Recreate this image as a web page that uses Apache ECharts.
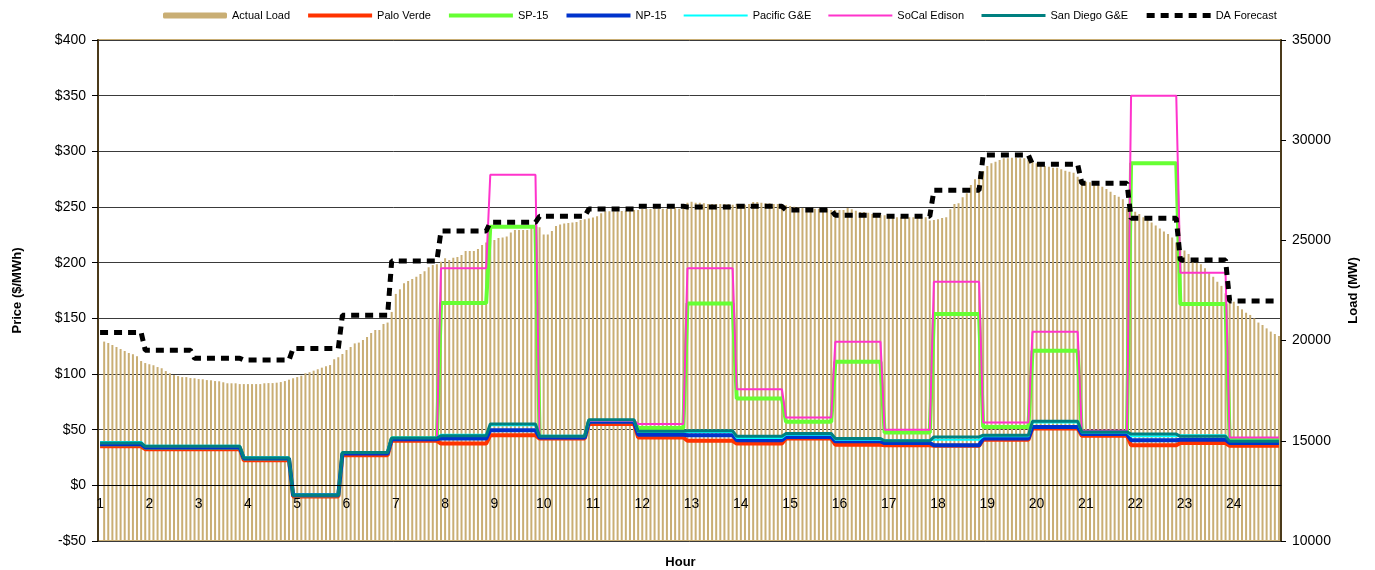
<!DOCTYPE html>
<html>
<head>
<meta charset="utf-8">
<script src="https://cdn.jsdelivr.net/npm/echarts@6/dist/echarts.min.js"></script>
<style>
  html, body { margin: 0; padding: 0; background: #fff; }
  #chart { width: 1375px; height: 570px; }
</style>
</head>
<body>
<div id="chart"></div>
<script>
// hour labels on the x axis (one every 12 five-minute slots)
var hourLabels = ['1','2','3','4','5','6','7','8','9','10','11','12',
                  '13','14','15','16','17','18','19','20','21','22','23','24'];

// actual load, MW, 5-minute bars (first slot empty)
var loadMW = [null,
  19950,19880,19780,19680,19580,19480,19380,19320,19220,18980,18880,18820,
  18770,18680,18620,18480,18370,18280,18230,18180,18180,18130,18120,18080,
  18070,18030,18020,17980,17970,17920,17870,17870,17870,17830,17830,17830,
  17830,17830,17830,17870,17880,17880,17900,17930,17980,18050,18120,18180,
  18250,18370,18420,18500,18570,18650,18720,18780,19070,19170,19330,19530,
  19680,19860,19900,20030,20180,20380,20530,20530,20830,20900,
  21430,22330,22560,22860,22970,23070,23190,23320,23460,23660,
  23770,23810,23940,24110,24020,24140,24170,24270,24470,24470,
  24470,24570,24770,24900,25020,25020,25120,25150,25190,25400,
  25520,25520,25520,25520,25690,25640,25650,25300,25300,25470,
  25720,25790,25840,25870,25890,25920,26020,26050,26090,26140,
  26200,26350,26450,26450,26450,26450,26470,26480,26470,26520,
  26520,26570,26570,26570,26580,26580,26580,26580,26580,26630,
  26580,26600,
  26880,26930,26880,26880,26850,26820,26820,26820,26820,26820,
  26820,26780,26820,26800,26780,26820,26920,26920,26880,26850,
  26850,26820,26820,26820,26750,26720,26680,26650,26620,26620,
  26580,26580,26580,26620,26580,26520,26520,26520,26520,26620,
  26550,26480,26420,26420,26380,26320,26320,26280,26250,26220,
  26180,26150,26150,26120,26150,26150,26150,26150,26150,25990,
  26020,26050,26120,26150,26550,26820,26850,27150,27350,27770,
  28050,28260,28460,
  28710,28850,28930,29010,29100,29100,29130,29130,29100,29100,
  29010,28930,28850,28760,28710,28680,28630,28630,28550,28480,
  28430,28380,28180,28010,27930,27900,27850,27770,27680,27570,
  27430,27270,27180,27050,26600,26520,26430,26320,26150,26020,
  25890,25740,25600,25440,25320,25150,24890,24600,24490,24320,
  24110,23890,23810,23610,23360,23190,22940,22730,22360,22110,
  21940,21730,21560,21390,21280,21110,20900,20780,20610,20450,
  20330,20230
];

// hourly values, hours 1..24
var daForecast = [20410,19520,19120,19030,19610,21260,23970,25470,25900,26200,26570,26700,
                  26670,26700,26520,26250,26200,27500,29260,28800,27850,26100,24020,21980];
var paloVerde  = [35,32.5,32.5,22.5,-10,27,40,37.5,45,42,55,43,
                  40,37.5,42,36.5,36,35.5,41,51,44.5,36,38,35.5];
var sp15       = [37,34,34,24,-9,29,42,163.7,232.3,43.5,57.5,51.5,
                  163.4,78,57,110.9,47.4,153.8,52.4,120.8,47,289.3,162.8,41];
var np15       = [37,34,34,24,-9,28.5,41.5,42,49.5,43,57,45.5,
                  45,40.5,43.5,39.5,38,36,42,52.5,46,40.5,41,38];
var pacificGE  = [39,35.5,35.5,25,-8.5,30,43,45.5,54,44.5,58,48,
                  48,42.5,45.5,41,40.5,41,44,56.5,47.5,44,45,40];
var socalEdison= [38,35,35,24.5,-9,29.5,42.5,195,279,44,58,55,
                  195,86.3,61,128.9,50,182.8,56.4,137.9,49,350,191,42.9];
var sanDiegoGE = [38,35,35,24.5,-9,29.5,42.5,44.5,55,44,59,48.5,
                  49,44,46.5,42,40,43.5,45,57.5,48,46,44,39.5];

var SLOTS = 288;
var categories = [];
for (var i = 0; i < SLOTS; i++) {
  categories.push(i % 12 === 0 ? hourLabels[i / 12] : '');
}

// spread hourly values over the 5-minute slots
function expandHourly(vals) {
  var out = [];
  for (var i = 0; i < SLOTS; i++) {
    var h = Math.min(23, Math.floor((i + 1) / 12));
    out.push(vals[h]);
  }
  return out;
}

function priceLine(name, vals, color, width) {
  return {
    name: name, type: 'line', symbol: 'none', yAxisIndex: 0,
    data: expandHourly(vals),
    lineStyle: { color: color, width: width },
    itemStyle: { color: color }
  };
}

var seriesNames = ['Actual Load', 'Palo Verde', 'SP-15', 'NP-15', 'Pacific G&E',
                   'SoCal Edison', 'San Diego G&E', 'DA Forecast'];
var legendData = seriesNames.map(function (n) {
  return n === 'Actual Load' ? n : { name: n, itemStyle: { opacity: 0 } };
});

var FONT = 'Liberation Sans, Arial, sans-serif';
var nameStyle = { fontWeight: 'bold', fontSize: 13, color: '#000', fontFamily: FONT };

var chart = echarts.init(document.getElementById('chart'));
chart.setOption({
  animation: false,
  backgroundColor: '#fff',
  textStyle: { fontFamily: FONT },
  legend: {
    data: legendData,
    top: 5, left: 158,
    itemWidth: 64, itemHeight: 6, itemGap: 16,
    textStyle: { fontSize: 11, color: '#000', fontFamily: FONT },
    lineStyle: { width: 'inherit' }
  },
  grid: {
    left: 98, right: 94, top: 40, bottom: 29,
    outerBoundsMode: 'none', containLabel: false,
    show: true, borderColor: '#C9AE74', borderWidth: 2, backgroundColor: '#fff'
  },
  xAxis: {
    type: 'category', data: categories, boundaryGap: true, z: 5,
    axisLine: { onZero: true, onZeroAxisIndex: 0, lineStyle: { color: '#000', width: 1 } },
    axisTick: { interval: 0, length: 4, lineStyle: { color: '#000' } },
    axisLabel: { interval: 11, color: '#000', fontSize: 14, fontFamily: FONT, margin: -44 },
    splitLine: { show: false },
    name: 'Hour', nameLocation: 'middle', nameGap: 15,
    nameTextStyle: Object.assign({ padding: [0, 18, 0, 0] }, nameStyle)
  },
  yAxis: [{
    type: 'value', position: 'left', min: -50, max: 400, interval: 50,
    axisLine: { show: true, lineStyle: { color: '#4B3A1A', width: 2 } },
    axisTick: { show: true, length: 6, lineStyle: { color: '#000' } },
    axisLabel: {
      color: '#000', fontSize: 14, fontFamily: FONT, margin: 12,
      formatter: function (v) { return v < 0 ? '-$' + Math.abs(v) : '$' + v; }
    },
    splitLine: { lineStyle: { color: '#3a3a3a', width: 1 } },
    name: 'Price ($/MWh)', nameLocation: 'middle', nameRotate: 90, nameGap: 74,
    nameTextStyle: nameStyle
  }, {
    type: 'value', position: 'right', min: 10000, max: 35000, interval: 5000,
    axisLine: { show: true, lineStyle: { color: '#4B3A1A', width: 2 } },
    axisTick: { show: true, length: 5, lineStyle: { color: '#000' } },
    axisLabel: { color: '#000', fontSize: 14, fontFamily: FONT, margin: 11,
      formatter: function (v) { return String(v); } },
    splitLine: { show: false },
    name: 'Load (MW)', nameLocation: 'middle', nameRotate: 90, nameGap: 66,
    nameTextStyle: nameStyle
  }],
  series: [
    {
      name: 'Actual Load', type: 'bar', yAxisIndex: 1, data: loadMW,
      barWidth: 2, itemStyle: { color: '#C9AE74' }
    },
    priceLine('Palo Verde', paloVerde, '#FF3300', 4),
    priceLine('SP-15', sp15, '#66FF33', 4),
    priceLine('NP-15', np15, '#0033CC', 4),
    priceLine('Pacific G&E', pacificGE, '#00FFFF', 2),
    priceLine('SoCal Edison', socalEdison, '#FF33CC', 2),
    priceLine('San Diego G&E', sanDiegoGE, '#008080', 3),
    {
      name: 'DA Forecast', type: 'line', symbol: 'none', yAxisIndex: 1,
      data: expandHourly(daForecast),
      lineStyle: { color: '#000', width: 5, type: [8, 6] },
      itemStyle: { color: '#000' }
    }
  ]
});
</script>
</body>
</html>
